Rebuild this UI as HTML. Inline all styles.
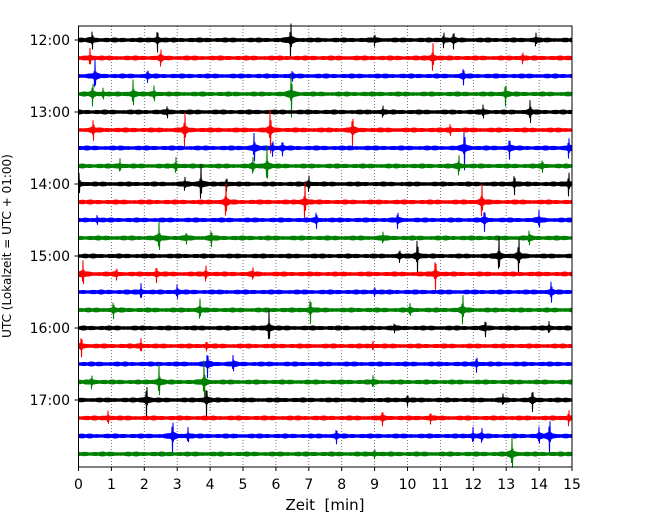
<!DOCTYPE html>
<html><head><meta charset="utf-8"><style>
body{margin:0;background:#fff}
svg{display:block;font-family:"DejaVu Sans","Liberation Sans",sans-serif}
</style></head><body>
<svg id="chart" width="650" height="520">
<g id="grid"></g>
<g id="traces"></g>
<rect x="78.5" y="26" width="493.5" height="441" fill="none" stroke="#000" stroke-width="1"/>
<g id="axes"></g>
<text x="325" y="510" text-anchor="middle" font-size="15">Zeit&#160;&#160;[min]</text>
<text transform="translate(11,246) rotate(-90)" text-anchor="middle" font-size="12">UTC (Lokalzeit = UTC + 01:00)</text>
</svg>
<script>
const xTicks=[0,1,2,3,4,5,6,7,8,9,10,11,12,13,14,15];
const yTickLabels=["12:00","13:00","14:00","15:00","16:00","17:00"];
const colors=["#000","#f00","#00f","#008000"];
const baseNoise=2.3;
// events per trace: [minute, half-amplitude px]
const events=[
[[0.42,7],[2.4,9],[6.45,15],[9.0,4],[11.1,6],[11.4,6],[13.9,5]],
[[0.35,7],[2.5,6],[10.77,12],[13.5,4]],
[[0.5,12],[2.1,4],[6.5,3],[11.7,6]],
[[0.43,9],[0.75,4],[1.66,11],[2.3,6],[6.47,20],[12.98,9]],
[[2.7,4],[9.25,4],[12.3,5],[13.73,9]],
[[0.45,8],[3.23,14],[5.83,20],[8.33,12],[11.3,4]],
[[5.34,12],[5.9,6],[6.2,5],[11.73,18],[13.1,8],[14.9,8]],
[[1.26,5],[2.96,6],[5.3,6],[5.73,16],[11.56,8],[14.1,4]],
[[0.02,8],[3.23,5],[3.72,16],[4.5,5],[7.0,6],[13.25,8],[14.9,10]],
[[4.48,14],[6.88,16],[12.26,14]],
[[0.57,3],[7.23,6],[9.7,6],[12.34,8],[14.0,7]],
[[2.45,12],[3.28,4],[4.04,6],[9.25,4],[13.7,5]],
[[10.3,16],[12.78,15],[13.38,16],[9.76,4]],
[[0.14,10],[1.16,4],[2.37,6],[3.87,6],[5.3,4],[10.85,14]],
[[1.9,6],[3.0,5],[9.0,3],[14.37,8]],
[[1.06,6],[3.69,8],[7.05,10],[11.68,12],[10.08,4]],
[[5.79,14],[12.37,6],[9.6,3],[14.3,4]],
[[0.09,8],[1.9,5],[3.89,3],[8.95,3]],
[[3.92,10],[4.7,6],[12.1,6]],
[[0.4,5],[2.45,14],[3.82,18],[8.95,4]],
[[2.07,14],[3.89,12],[10.0,4],[12.9,4],[13.8,8]],
[[0.9,5],[9.24,5],[10.7,4],[14.9,6]],
[[2.86,14],[3.33,6],[7.84,5],[11.99,6],[12.26,5],[14.0,6],[14.32,15]],
[[13.18,14],[9.0,3]]
];
const X0=78.5,X1=572,Y0=40,DY=18;
const xs=m=>X0+(m/15)*(X1-X0);
const ys=i=>Y0+i*DY;
const NS="http://www.w3.org/2000/svg";
const grid=document.getElementById('grid'),axes=document.getElementById('axes'),tr=document.getElementById('traces');
function mk(tag,attrs,parent){const e=document.createElementNS(NS,tag);for(const k in attrs)e.setAttribute(k,attrs[k]);parent.appendChild(e);return e;}
xTicks.forEach(t=>{
  if(t>0&&t<15){const g=mk('line',{x1:xs(t),x2:xs(t),y1:26,y2:467,stroke:'#555','stroke-width':0.8,'stroke-dasharray':'1,2'},grid);
  
  }
  const tk=mk('line',{x1:xs(t),x2:xs(t),y1:467,y2:471,stroke:'#000'},axes);
  
  
  const lb=mk('text',{x:xs(t),y:489,'text-anchor':'middle','font-size':14},axes);
  lb.textContent=t;
  
  
});
yTickLabels.forEach((s,k)=>{
  const y=ys(k*4);
  const tk=mk('line',{x1:74.5,x2:78.5,y1:y,y2:y,stroke:'#000'},axes);
  
  
  const lb=mk('text',{x:70,y:y+5,'text-anchor':'end','font-size':14},axes);
  lb.textContent=s;
  
  
});
events.forEach((ev,i)=>{
  const y=ys(i);let pts=[];
  for(let px=X0;px<=X1;px+=0.5){
    const m=(px-X0)/(X1-X0)*15;
    let a=baseNoise*(0.7+0.35*Math.abs(Math.sin(px*0.37+i*1.7)*Math.cos(px*0.11+i)));
    ev.forEach(([t,amp])=>{const d=(m-t)/0.018;a+=amp*Math.exp(-d*d)+Math.min(3,amp*0.2)*Math.exp(-Math.abs(m-t)/0.08);});
    const s=((px*2)|0)%2?1:-1;
    pts.push(px.toFixed(1)+','+(y+s*a).toFixed(1));
  }
  const p=mk('polyline',{points:pts.join(' '),fill:'none',stroke:colors[i%4],'stroke-width':1},tr);
  
  
});
</script>
</body></html>
